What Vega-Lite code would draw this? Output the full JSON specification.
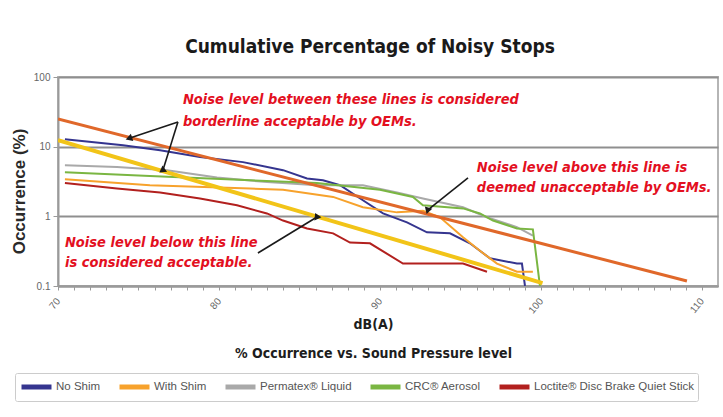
{
  "$schema": "https://vega.github.io/schema/vega-lite/v6.json",
  "width": 660,
  "height": 209,
  "autosize": "none",
  "padding": {"left": 58, "top": 77, "right": 5, "bottom": 131},
  "background": "white",
  "config": {"view": {"stroke": "#b5b5b5", "strokeWidth": 2}},
  "title": {
    "text": "Cumulative Percentage of Noisy Stops",
    "font": "DejaVu Sans Condensed, Liberation Sans, sans-serif",
    "fontSize": 19,
    "fontWeight": "bold",
    "color": "#1a1a1a",
    "dx": -18,
    "offset": 15
  },
  "datasets": {
    "series": [
      {"series": "No Shim", "db": 70.43, "pct": 12.8},
      {"series": "No Shim", "db": 74.04, "pct": 10.5},
      {"series": "No Shim", "db": 76.34, "pct": 8.9},
      {"series": "No Shim", "db": 78.82, "pct": 7.1},
      {"series": "No Shim", "db": 81.49, "pct": 6.0},
      {"series": "No Shim", "db": 83.98, "pct": 4.6},
      {"series": "No Shim", "db": 85.47, "pct": 3.5},
      {"series": "No Shim", "db": 86.46, "pct": 3.3},
      {"series": "No Shim", "db": 87.52, "pct": 2.8},
      {"series": "No Shim", "db": 88.94, "pct": 1.7},
      {"series": "No Shim", "db": 90.19, "pct": 1.1},
      {"series": "No Shim", "db": 91.68, "pct": 0.82},
      {"series": "No Shim", "db": 92.92, "pct": 0.59},
      {"series": "No Shim", "db": 94.35, "pct": 0.57},
      {"series": "No Shim", "db": 95.59, "pct": 0.41},
      {"series": "No Shim", "db": 96.83, "pct": 0.25},
      {"series": "No Shim", "db": 98.51, "pct": 0.21},
      {"series": "No Shim", "db": 98.82, "pct": 0.21},
      {"series": "No Shim", "db": 99.01, "pct": 0.1},
      {"series": "With Shim", "db": 70.43, "pct": 3.4},
      {"series": "With Shim", "db": 75.71, "pct": 2.8},
      {"series": "With Shim", "db": 81.93, "pct": 2.5},
      {"series": "With Shim", "db": 83.98, "pct": 2.4},
      {"series": "With Shim", "db": 87.09, "pct": 1.9},
      {"series": "With Shim", "db": 88.94, "pct": 1.35},
      {"series": "With Shim", "db": 91.06, "pct": 1.14},
      {"series": "With Shim", "db": 92.67, "pct": 1.2},
      {"series": "With Shim", "db": 93.73, "pct": 0.97},
      {"series": "With Shim", "db": 95.16, "pct": 0.5},
      {"series": "With Shim", "db": 96.21, "pct": 0.32},
      {"series": "With Shim", "db": 97.27, "pct": 0.21},
      {"series": "With Shim", "db": 98.51, "pct": 0.16},
      {"series": "With Shim", "db": 99.5, "pct": 0.16},
      {"series": "Permatex® Liquid", "db": 70.43, "pct": 5.4},
      {"series": "Permatex® Liquid", "db": 73.66, "pct": 5.1},
      {"series": "Permatex® Liquid", "db": 76.77, "pct": 4.6},
      {"series": "Permatex® Liquid", "db": 79.88, "pct": 3.6},
      {"series": "Permatex® Liquid", "db": 82.98, "pct": 3.1},
      {"series": "Permatex® Liquid", "db": 86.09, "pct": 2.8},
      {"series": "Permatex® Liquid", "db": 88.94, "pct": 2.8},
      {"series": "Permatex® Liquid", "db": 91.06, "pct": 2.2},
      {"series": "Permatex® Liquid", "db": 92.67, "pct": 1.8},
      {"series": "Permatex® Liquid", "db": 95.16, "pct": 1.35},
      {"series": "Permatex® Liquid", "db": 96.65, "pct": 0.97},
      {"series": "Permatex® Liquid", "db": 98.51, "pct": 0.7},
      {"series": "Permatex® Liquid", "db": 99.5, "pct": 0.53},
      {"series": "CRC® Aerosol", "db": 70.43, "pct": 4.3},
      {"series": "CRC® Aerosol", "db": 75.71, "pct": 3.8},
      {"series": "CRC® Aerosol", "db": 81.93, "pct": 3.3},
      {"series": "CRC® Aerosol", "db": 86.09, "pct": 3.0},
      {"series": "CRC® Aerosol", "db": 90.0, "pct": 2.4},
      {"series": "CRC® Aerosol", "db": 92.05, "pct": 1.9},
      {"series": "CRC® Aerosol", "db": 92.67, "pct": 1.44},
      {"series": "CRC® Aerosol", "db": 95.16, "pct": 1.3},
      {"series": "CRC® Aerosol", "db": 96.21, "pct": 1.1},
      {"series": "CRC® Aerosol", "db": 97.02, "pct": 0.87},
      {"series": "CRC® Aerosol", "db": 98.51, "pct": 0.67},
      {"series": "CRC® Aerosol", "db": 99.5, "pct": 0.65},
      {"series": "CRC® Aerosol", "db": 99.94, "pct": 0.1},
      {"series": "Loctite® Disc Brake Quiet Stick", "db": 70.43, "pct": 3.0},
      {"series": "Loctite® Disc Brake Quiet Stick", "db": 73.66, "pct": 2.5},
      {"series": "Loctite® Disc Brake Quiet Stick", "db": 76.34, "pct": 2.2},
      {"series": "Loctite® Disc Brake Quiet Stick", "db": 78.82, "pct": 1.8},
      {"series": "Loctite® Disc Brake Quiet Stick", "db": 81.12, "pct": 1.44},
      {"series": "Loctite® Disc Brake Quiet Stick", "db": 82.98, "pct": 1.1},
      {"series": "Loctite® Disc Brake Quiet Stick", "db": 83.98, "pct": 0.87},
      {"series": "Loctite® Disc Brake Quiet Stick", "db": 85.47, "pct": 0.67},
      {"series": "Loctite® Disc Brake Quiet Stick", "db": 87.09, "pct": 0.57},
      {"series": "Loctite® Disc Brake Quiet Stick", "db": 88.14, "pct": 0.42},
      {"series": "Loctite® Disc Brake Quiet Stick", "db": 89.38, "pct": 0.41},
      {"series": "Loctite® Disc Brake Quiet Stick", "db": 91.43, "pct": 0.21},
      {"series": "Loctite® Disc Brake Quiet Stick", "db": 95.16, "pct": 0.21},
      {"series": "Loctite® Disc Brake Quiet Stick", "db": 96.65, "pct": 0.16}
    ],
    "refs": [
      {"line": "upper", "db": 70, "pct": 25},
      {"line": "upper", "db": 109.07, "pct": 0.118},
      {"line": "lower", "db": 70, "pct": 12.4},
      {"line": "lower", "db": 100.1, "pct": 0.11}
    ],
    "arrows": [
      {"arrow": "a1", "db": 74.47, "pct": 13.3, "db2": 77.45, "pct2": 22.6},
      {"arrow": "a2", "db": 76.52, "pct": 4.63, "db2": 77.45, "pct2": 22.6},
      {"arrow": "a3", "db": 86.09, "pct": 0.98, "db2": 82.42, "pct2": 0.298},
      {"arrow": "a4", "db": 92.98, "pct": 1.24, "db2": 95.47, "pct2": 3.56}
    ],
    "notes": [
      {"label": "Noise level between these lines is considered", "db": 77.76, "pct": 46.8},
      {"label": "borderline acceptable by OEMs.", "db": 77.76, "pct": 22.6},
      {"label": "Noise level above this line is", "db": 96.02, "pct": 4.95},
      {"label": "deemed unacceptable by OEMs.", "db": 96.02, "pct": 2.55},
      {"label": "Noise level below this line", "db": 70.43, "pct": 0.415},
      {"label": "is considered acceptable.", "db": 70.43, "pct": 0.214}
    ]
  },
  "encoding": {
    "x": {
      "field": "db",
      "type": "quantitative",
      "scale": {"domain": [70, 111], "nice": false, "zero": false},
      "axis": {
        "values": [70,71,72,73,74,75,76,77,78,79,80,81,82,83,84,85,86,87,88,89,90,91,92,93,94,95,96,97,98,99,100,101,102,103,104,105,106,107,108,109,110],
        "labelExpr": "datum.value % 10 === 0 ? datum.label : ''",
        "labelAngle": -50,
        "labelAlign": "right",
        "labelBaseline": "middle",
        "labelPadding": 9,
        "labelFont": "Liberation Sans",
        "labelFontSize": 10,
        "labelColor": "#666666",
        "tickColor": "#9a9a9a",
        "tickSize": 4,
        "domainColor": "#9a9a9a",
        "domainWidth": 2,
        "grid": false,
        "title": ["dB(A)", "% Occurrence vs. Sound Pressure level"],
        "titleFont": "DejaVu Sans Condensed, Liberation Sans, sans-serif",
        "titleFontSize": 14,
        "titleFontWeight": "bold",
        "titleColor": "#1d1d1d",
        "titleLineHeight": 29,
        "titleX": 315,
        "titleY": 31,
        "titleBaseline": "top"
      }
    },
    "y": {
      "field": "pct",
      "type": "quantitative",
      "scale": {"type": "log", "domain": [0.1, 100], "nice": false},
      "axis": {
        "values": [0.1, 1, 10, 100],
        "format": "~g",
        "labelFont": "Liberation Sans",
        "labelFontSize": 10,
        "labelColor": "#666666",
        "labelPadding": 3,
        "tickColor": "#9a9a9a",
        "tickSize": 5,
        "domainColor": "#9a9a9a",
        "domainWidth": 2,
        "grid": true,
        "gridColor": "#8f8f8f",
        "gridWidth": 2,
        "title": "Occurrence (%)",
        "titleFont": "Liberation Sans",
        "titleFontSize": 17,
        "titleFontWeight": "bold",
        "titleColor": "#2a2a2a",
        "titlePadding": 5,
        "titleY": 114
      }
    }
  },
  "layer": [
    {
      "data": {"name": "series"},
      "mark": {"type": "line", "strokeWidth": 2, "clip": true},
      "encoding": {
        "color": {
          "field": "series",
          "type": "nominal",
          "scale": {
            "domain": ["No Shim", "With Shim", "Permatex® Liquid", "CRC® Aerosol", "Loctite® Disc Brake Quiet Stick"],
            "range": ["#35358f", "#f7a22c", "#a9a9a9", "#7ab642", "#b2201e"]
          },
          "legend": {
            "title": null,
            "orient": "none",
            "direction": "horizontal",
            "legendX": -43,
            "legendY": 296,
            "symbolType": "M-1,0H3",
            "symbolSize": 225,
            "symbolStrokeWidth": 5,
            "labelFont": "Liberation Sans",
            "labelFontSize": 11.5,
            "labelColor": "#555555",
            "labelOffset": 17,
            "labelLimit": 300,
            "columnPadding": 8,
            "padding": 4,
            "strokeColor": "#cccccc",
            "fillColor": "white",
            "cornerRadius": 2
          }
        }
      }
    },
    {
      "data": {"name": "refs"},
      "transform": [{"filter": "datum.line === 'upper'"}],
      "mark": {"type": "line", "strokeWidth": 3, "color": "#e0682a", "clip": true}
    },
    {
      "data": {"name": "refs"},
      "transform": [{"filter": "datum.line === 'lower'"}],
      "mark": {"type": "line", "strokeWidth": 4, "color": "#f2c418", "clip": true}
    },
    {
      "data": {"name": "arrows"},
      "mark": {"type": "rule", "strokeWidth": 1.6, "color": "#1a1a1a"},
      "encoding": {
        "x2": {"field": "db2"},
        "y2": {"field": "pct2"}
      }
    },
    {
      "data": {"name": "arrows"},
      "mark": {"type": "point", "shape": "triangle", "filled": true, "size": 60, "color": "#1a1a1a", "opacity": 1},
      "encoding": {
        "angle": {
          "field": "arrow",
          "type": "nominal",
          "scale": {"domain": ["a1", "a2", "a3", "a4"], "range": [251.6, 197.4, 58.6, 231.3]},
          "legend": null
        }
      }
    },
    {
      "data": {"name": "notes"},
      "mark": {
        "type": "text",
        "align": "left",
        "baseline": "middle",
        "font": "DejaVu Sans Condensed, Liberation Sans, sans-serif",
        "fontSize": 14.5,
        "fontWeight": "bold",
        "fontStyle": "italic",
        "color": "#e3101f"
      },
      "encoding": {"text": {"field": "label"}}
    }
  ]
}
